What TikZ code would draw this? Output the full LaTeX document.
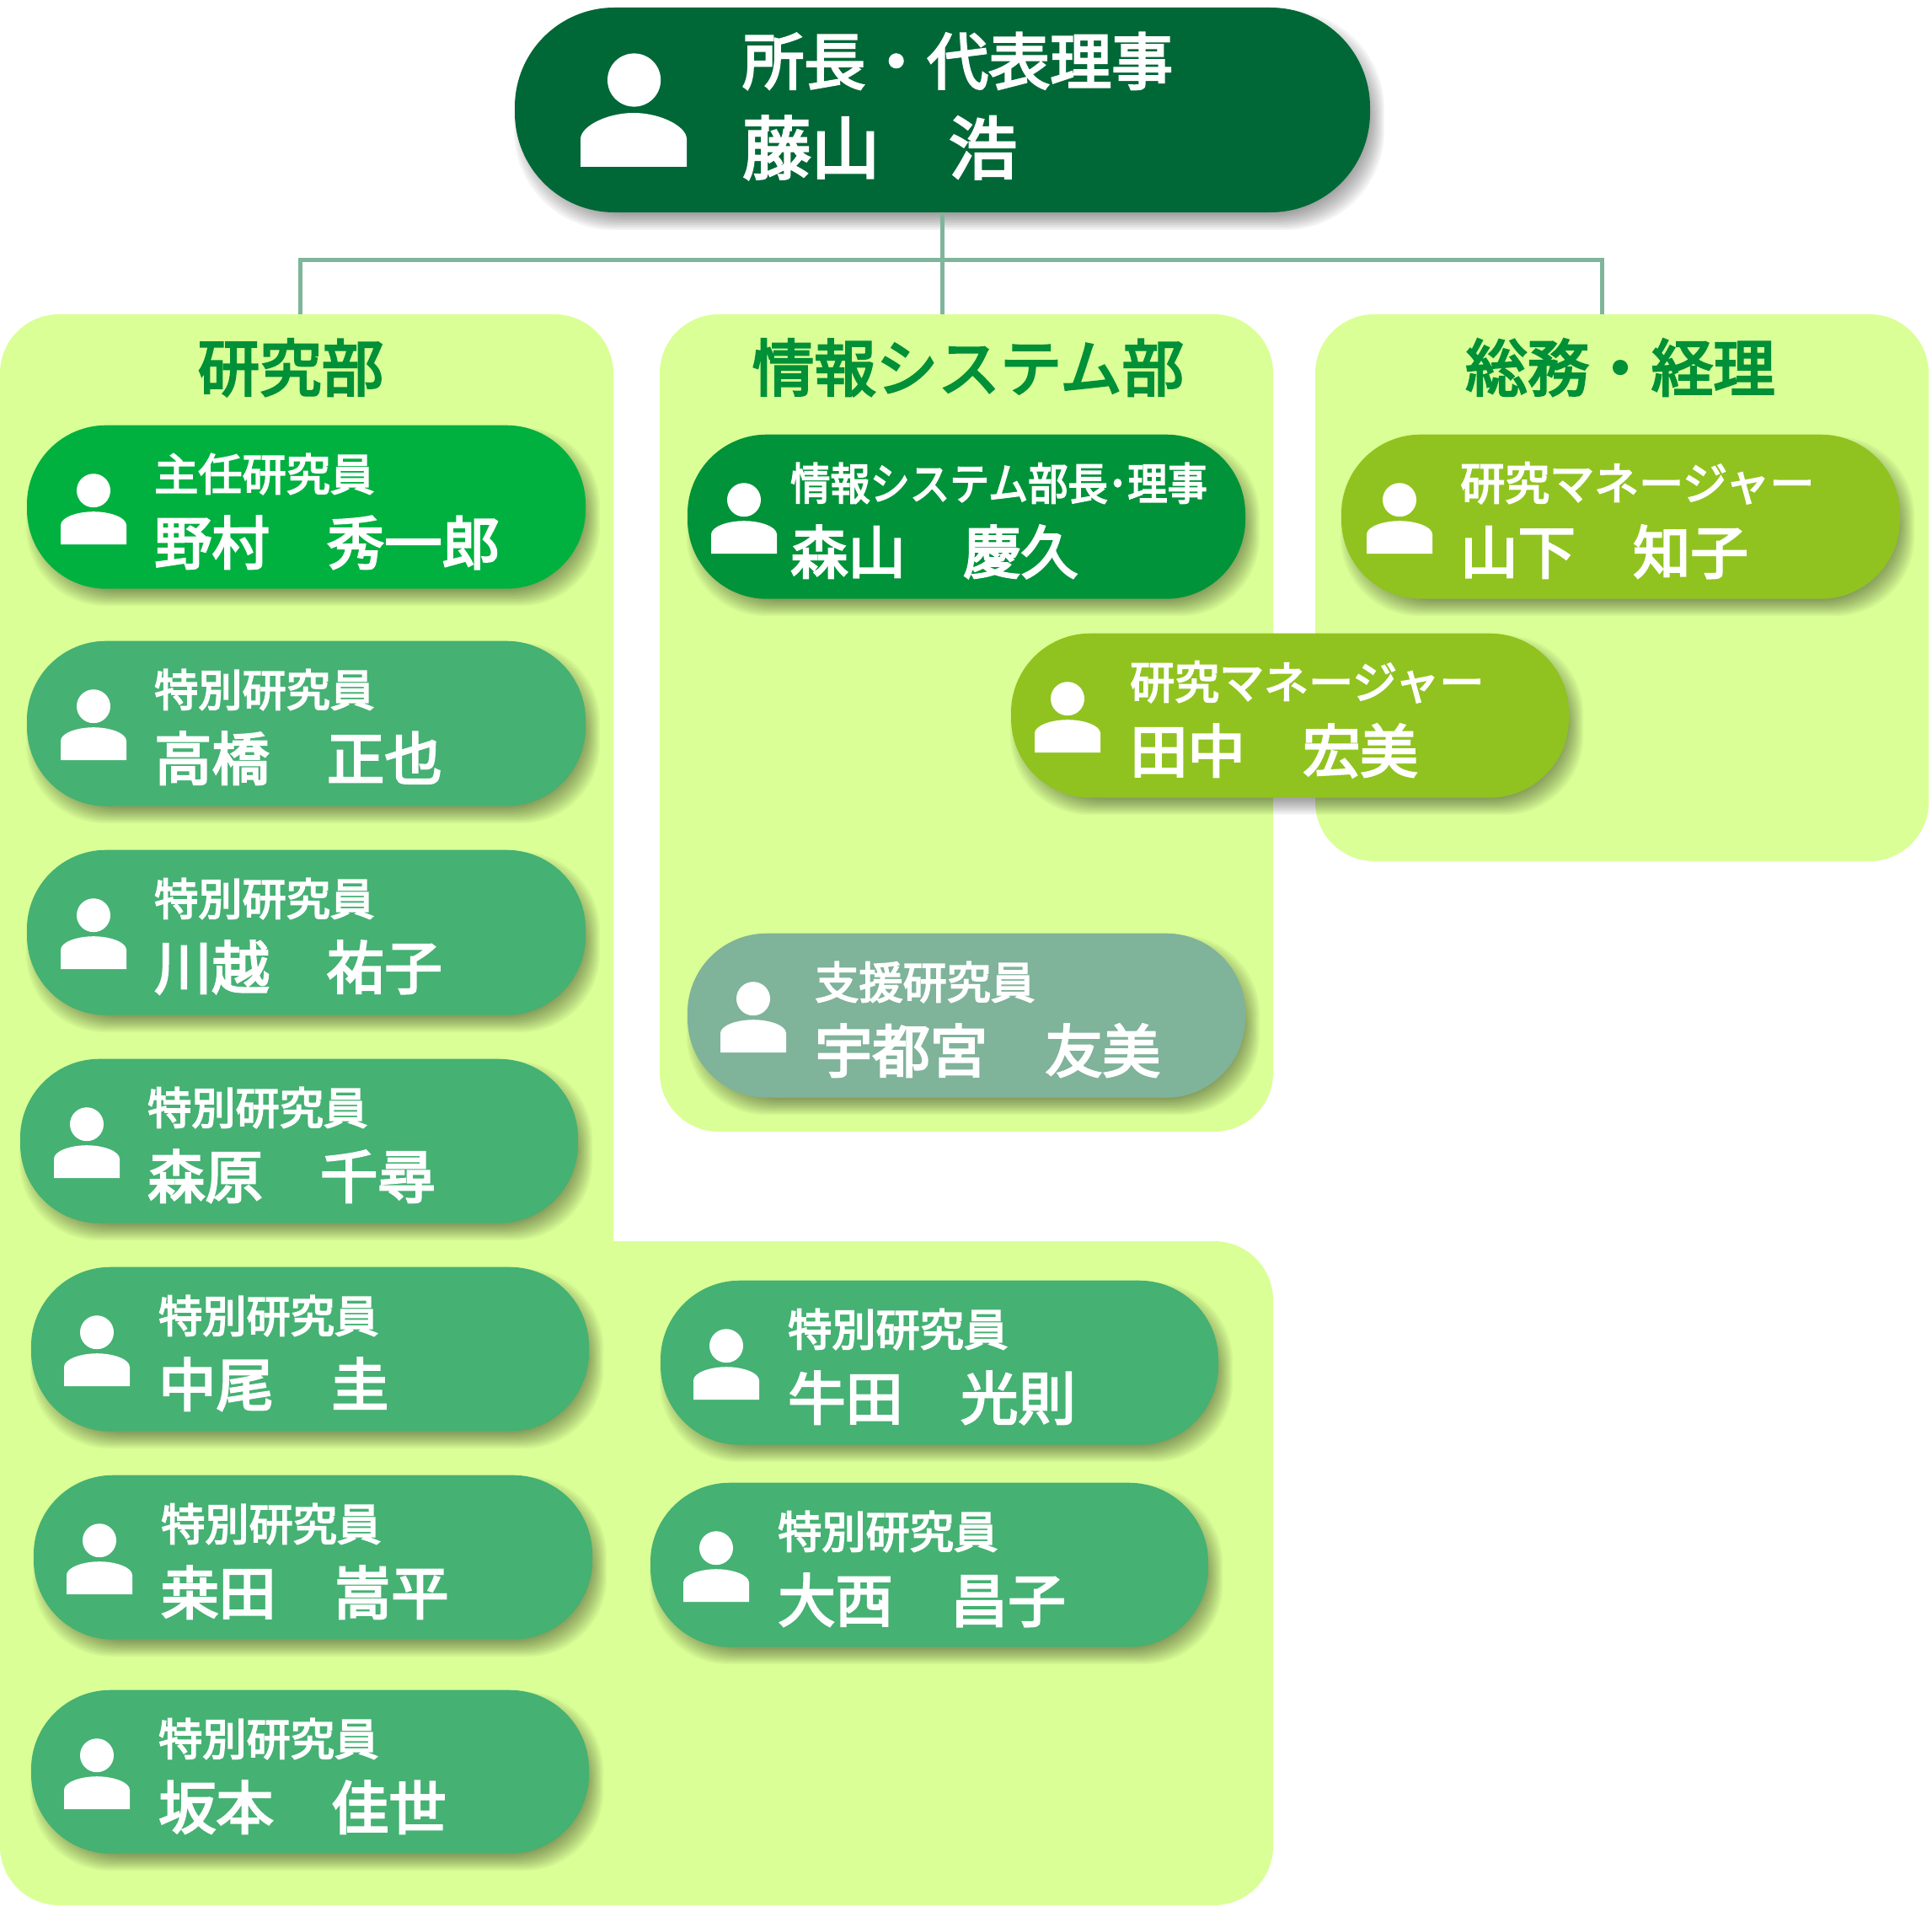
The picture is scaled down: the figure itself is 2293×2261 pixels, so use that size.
\documentclass[tikz,border=0pt]{standalone}
\usepackage{fontspec}
\newfontfamily\jp{Noto Sans CJK JP}[FakeBold=3.5]
\definecolor{panelc}{HTML}{DAFF96}
\definecolor{chiefc}{HTML}{006836}
\definecolor{specialc}{HTML}{45B173}
\definecolor{leadc}{HTML}{00B140}
\definecolor{infoc}{HTML}{009339}
\definecolor{assistc}{HTML}{7FB39A}
\definecolor{managerc}{HTML}{90C31F}
\definecolor{linec}{HTML}{7FB59B}
\definecolor{titlec}{HTML}{009037}
\tikzset{
  x=1pt,y=-1pt,
  panel/.style={fill=panelc,draw=none,rounded corners=70pt,inner sep=0pt,outer sep=0pt},
  pill/.style={draw=none,inner sep=0pt,outer sep=0pt,rounded corners=94pt},
  conn/.style={draw=linec,line width=5pt},
  paneltitle/.style={text=titlec,inner sep=0pt,anchor=base,font=\jp\fontsize{73.5}{73.5}\selectfont},
  roletext/.style={text=white,inner sep=0pt,anchor=base west,font=\jp\fontsize{52.2}{52.2}\selectfont},
  nametext/.style={text=white,inner sep=0pt,anchor=base west,font=\jp\fontsize{68.3}{68.3}\selectfont},
}
% shadow + pill: id, x1, y1, x2, y2, colour
\newcommand\cardbox[6]{%
  \foreach \s in {-9,-7,-5,-3,-1,1,3,5,7,9}{%
    \fill[black,opacity=.045,rounded corners=94pt]
      ({#2+8-\s},{#3+12-\s}) rectangle ({#4+8+\s},{#5+12+\s});}%
  \pgfmathsetmacro\cw{#4-#2}\pgfmathsetmacro\ch{#5-#3}%
  \pgfmathsetmacro\cx{(#2+#4)/2}\pgfmathsetmacro\cy{(#3+#5)/2+.7}%
  \node[pill,fill=#6,minimum width=\cw pt,minimum height=\ch pt] (#1) at (\cx,\cy) {};}
% person icon with head centre x offset #2 relative to card
\newcommand\cardicon[2]{%
  \begin{scope}[shift={(#1.north west)}]
    \fill[white] (#2,77.5) circle[radius=20];
    \fill[white] ({#2-39},141.5) -- ({#2-39},118.5) .. controls ({#2-39},109.5) and ({#2-20},102.5) .. (#2,102.5)
       .. controls ({#2+20},102.5) and ({#2+39},109.5) .. ({#2+39},118.5) -- ({#2+39},141.5) -- cycle;
  \end{scope}}
% id, icon dx, text dx, role, person
\newcommand\staffcard[5]{%
  \cardicon{#1}{#2}%
  \node[roletext] (#1role) at ([xshift=#3pt,yshift=-77.5pt]#1.north west) {#4};
  \node[nametext] (#1name) at ([xshift=#3pt,yshift=-165pt]#1.north west) {#5};}
\begin{document}
\begin{tikzpicture}
\useasboundingbox (0,0) rectangle (2293,2261);
% panels
\node[panel,minimum width=728pt,minimum height=1888pt] (research) at (364,1317) {};
\node[panel,minimum width=1211pt,minimum height=788pt] (researchlow) at (905.5,1867) {};
\node[panel,minimum width=728pt,minimum height=970pt] (infosys) at (1147,858) {};
\node[panel,minimum width=728pt,minimum height=649pt] (general) at (1925,697.5) {};
% chief
\foreach \s in {-9,-7,-5,-3,-1,1,3,5,7,9}{%
  \fill[black,opacity=.045,rounded corners=118pt] ({611+8-\s},{9+12-\s}) rectangle ({1626+8+\s},{252+12+\s});}
\node[pill,fill=chiefc,rounded corners=118pt,minimum width=1015pt,minimum height=243pt] (chief) at (1118.5,130.5) {};
% connectors
\coordinate (bus) at (1118.5,308);
\coordinate (researchdrop) at (356,373);
\coordinate (generaldrop) at (1901,373);
\draw[conn] (chief.south) -- (chief.south |- infosys.north);
\draw[conn] (researchdrop) |- (bus) -| (generaldrop);
\fill[white] (752.6,95) circle[radius=31.6];
\fill[white] (689,198) -- (689,165) .. controls (689,150) and (720,134) .. (752,134)
   .. controls (784,134) and (815,150) .. (815,165) -- (815,198) -- cycle;
\node[inner sep=0pt,anchor=base west,text=white,font=\jp\fontsize{73}{73}\selectfont] (chiefrole) at (881,100) {所長・代表理事};
\node[inner sep=0pt,anchor=base west,text=white,font=\jp\fontsize{81.5}{81.5}\selectfont] (chiefname) at (881,206) {藤山　浩};
% titles
\node[paneltitle] (researchtitle) at (345,464) {研究部};
\node[paneltitle] (infotitle) at (1149,464) {情報システム部};
\node[paneltitle] (generaltitle) at (1923,464) {総務・経理};
% research column
\cardbox{nomura}{32}{504}{695}{698}{leadc}
\staffcard{nomura}{79}{151}{主任研究員}{野村　秀一郎}
\cardbox{takahashi}{32}{760}{695}{956}{specialc}
\staffcard{takahashi}{79}{151}{特別研究員}{高橋　正也}
\cardbox{kawagoe}{32}{1008}{695}{1204}{specialc}
\staffcard{kawagoe}{79}{151}{特別研究員}{川越　祐子}
\cardbox{morihara}{24}{1256}{686}{1451}{specialc}
\staffcard{morihara}{79}{151}{特別研究員}{森原　千尋}
\cardbox{nakao}{37}{1503}{699}{1698}{specialc}
\staffcard{nakao}{78}{151}{特別研究員}{中尾　圭}
\cardbox{kuwata}{40}{1750}{703}{1945}{specialc}
\staffcard{kuwata}{78}{151}{特別研究員}{桒田　嵩平}
\cardbox{sakamoto}{37}{2005}{699}{2199}{specialc}
\staffcard{sakamoto}{78}{151}{特別研究員}{坂本　佳世}
% second column
\cardbox{ushida}{784}{1519}{1446}{1714}{specialc}
\staffcard{ushida}{78}{151}{特別研究員}{牛田　光則}
\cardbox{onishi}{772}{1759}{1434}{1954}{specialc}
\staffcard{onishi}{78}{151}{特別研究員}{大西　昌子}
\cardbox{moriyama}{816}{515}{1478}{710}{infoc}
\staffcard{moriyama}{67}{122}{\scalebox{.905}[1]{情報システム部長･理事}}{森山　慶久}
\cardbox{utsunomiya}{816}{1107}{1478}{1302}{assistc}
\staffcard{utsunomiya}{78}{151}{支援研究員}{宇都宮　友美}
% managers
\cardbox{yamashita}{1592}{515}{2255}{710}{managerc}
\staffcard{yamashita}{69}{141}{\fontsize{53}{53}\selectfont 研究マネージャー}{山下　知子}
\cardbox{tanaka}{1200}{751}{1862}{946}{managerc}
\staffcard{tanaka}{67}{141}{\fontsize{53}{53}\selectfont 研究マネージャー}{田中　宏美}
\end{tikzpicture}
\end{document}
